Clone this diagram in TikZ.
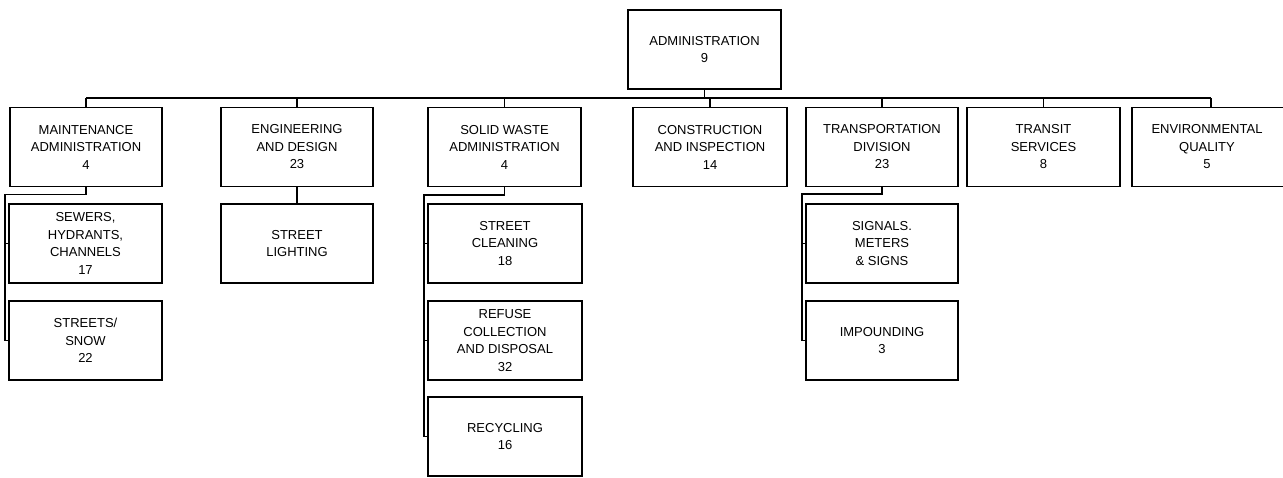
\documentclass[tikz,border=0pt]{standalone}
\usepackage{fontspec}
\setmainfont{Liberation Sans}
\begin{document}
\begin{tikzpicture}[x=1pt,y=-1pt,
  box/.style={draw=black, line width=1.3pt, minimum width=152pt, minimum height=79pt,
    align=center, inner sep=0pt, outer sep=0pt, font=\fontsize{13}{17.5}\selectfont},
  link/.style={draw=black, line width=1.1pt}]
\useasboundingbox (0,0) rectangle (1283,477);
% top
\node[box, minimum width=153pt] (admin) at (704.5,49.5) {ADMINISTRATION\\9};
% first level
\node[box] (maint) at (86,147) {MAINTENANCE\\ADMINISTRATION\\4};
\node[box] (eng) at (297,147) {ENGINEERING\\AND DESIGN\\23};
\node[box, minimum width=153pt] (solid) at (504.5,147) {SOLID WASTE\\ADMINISTRATION\\4};
\node[box, minimum width=154pt] (constr) at (710,147) {CONSTRUCTION\\AND INSPECTION\\14};
\node[box] (trans) at (882,147) {TRANSPORTATION\\DIVISION\\23};
\node[box, minimum width=153pt] (transit) at (1043.5,147) {TRANSIT\\SERVICES\\8};
\node[box, minimum width=158pt, text width=150pt] (env) at (1211,147) {\hspace*{-8pt}ENVIRONMENTAL\\\hspace*{-8pt}QUALITY\\\hspace*{-8pt}5};
% second level
\node[box, minimum width=153pt] (sewers) at (85.5,243.5) {SEWERS,\\HYDRANTS,\\CHANNELS\\17};
\node[box, minimum width=153pt] (streets) at (85.5,340.5) {STREETS/\\SNOW\\22};
\node[box] (lighting) at (297,243.5) {STREET\\LIGHTING};
\node[box, minimum width=154pt] (cleaning) at (505,243.5) {STREET\\CLEANING\\18};
\node[box, minimum width=154pt] (refuse) at (505,340.5) {REFUSE\\COLLECTION\\AND DISPOSAL\\32};
\node[box, minimum width=154pt] (recycling) at (505,436.5) {RECYCLING\\16};
\node[box] (signals) at (882,243.5) {SIGNALS.\\METERS\\\& SIGNS};
\node[box] (impound) at (882,340.5) {IMPOUNDING\\3};
% bus
\coordinate (bus) at (0,98);
\draw[link] (maint.north |- bus) -- (env.north |- bus);
\draw[link] (admin.south) -- (admin.south |- bus);
\foreach \n in {maint,eng,solid,constr,trans,transit,env}
  \draw[link] (\n.north |- bus) -- (\n.north);
% maintenance bracket
\coordinate (mb) at (5,194.5);
\draw[link] (maint.south) -- (maint.south |- mb) -- (mb) -- (mb |- streets.west) -- (streets.west);
\draw[link] (mb |- sewers.west) -- (sewers.west);
% engineering
\draw[link] (eng.south) -- (lighting.north);
% solid waste bracket
\coordinate (sb) at (424,195);
\draw[link] (solid.south) -- (solid.south |- sb) -- (sb) -- (sb |- recycling.west) -- (recycling.west);
\draw[link] (sb |- cleaning.west) -- (cleaning.west);
\draw[link] (sb |- refuse.west) -- (refuse.west);
% transportation bracket
\coordinate (tb) at (802,194);
\draw[link] (trans.south) -- (trans.south |- tb) -- (tb) -- (tb |- impound.west) -- (impound.west);
\draw[link] (tb |- signals.west) -- (signals.west);
\end{tikzpicture}
\end{document}
